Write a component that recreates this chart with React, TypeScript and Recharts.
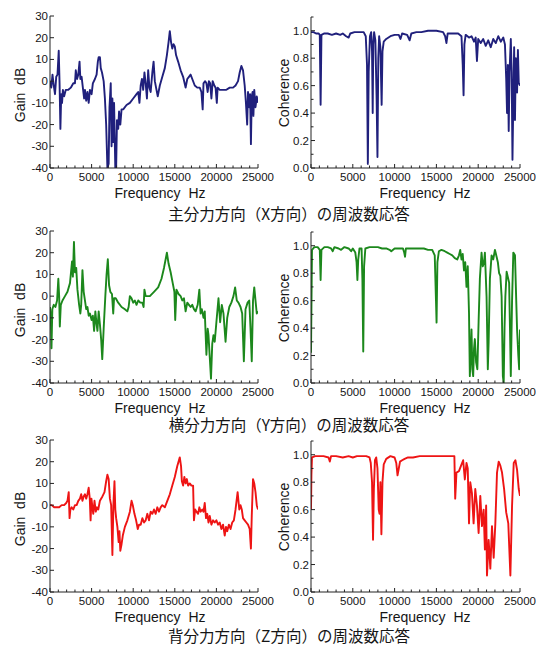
import React from 'react';
import { LineChart, Line, XAxis, YAxis } from 'recharts';

const FONT = '"Liberation Sans", Arial, Helvetica, sans-serif';
const CJK = '"Noto Sans CJK JP", "Noto Sans CJK SC", sans-serif';
const TEXT = '#151515';
const FRAME = '#222';

const freqTicks = [
  0, 1000, 2000, 3000, 4000, 5000, 6000, 7000, 8000, 9000, 10000, 11000, 12000,
  13000, 14000, 15000, 16000, 17000, 18000, 19000, 20000, 21000, 22000, 23000, 24000, 25000,
];
const gainTicks = [-40, -30, -20, -10, 0, 10, 20, 30];
const cohTicks = [0, 0.1, 0.2, 0.3, 0.4, 0.5, 0.6, 0.7, 0.8, 0.9, 1.0, 1.1];

const captions = [
  '主分力方向（X方向）の周波数応答',
  '横分力方向（Y方向）の周波数応答',
  '背分力方向（Z方向）の周波数応答',
];
const colors = ['#20207c', '#1c881c', '#ee1414'];

// [frequency Hz, gain dB]
const gainX: [number, number][] = [
  [0, 0], [150, -3], [300, 3], [450, -2], [600, -6], [750, 2], [900, 3], [1050, 14], [1150, -1], [1250, -22],
  [1350, -6], [1450, -10], [1550, -4], [1700, -7], [1900, -4], [2200, -4], [2500, -3], [2800, -1], [3000, -1],
  [3100, 5], [3250, 1], [3400, 3], [3550, 9], [3650, 1], [3800, 2], [3950, -3], [4100, -8], [4200, -4],
  [4350, -9], [4500, -5], [4650, -10], [4800, -4], [5000, -6], [5150, -1], [5400, 1], [5600, 3], [5750, 9],
  [5850, 11], [6000, 11], [6100, 6], [6250, 4], [6450, 0], [6600, -8], [6750, -20], [6900, -40], [7050, -38],
  [7150, -12], [7300, -1], [7400, -30], [7500, -8], [7600, -28], [7700, -10], [7850, -40], [7950, -40],
  [8050, -18], [8200, -22], [8300, -14], [8450, -20], [8600, -13], [8800, -13], [9200, -11], [9600, -10],
  [10000, -8], [10400, -6], [10600, -5], [10750, -10], [10900, -2], [11050, 1], [11200, -4], [11350, 4],
  [11500, -1], [11650, -8], [11800, 5], [11950, -3], [12100, -5], [12300, 4], [12450, 9], [12600, 0],
  [12800, -4], [12950, -7], [13200, -2], [13500, 2], [13800, 6], [14050, 12], [14250, 18], [14400, 23],
  [14550, 18], [14700, 15], [14850, 17], [15000, 16], [15150, 12], [15400, 9], [15700, 5], [16000, 2],
  [16300, -3], [16500, 1], [16700, 2], [16900, 3], [17100, 1], [17400, -2], [17700, -3], [18000, -3],
  [18200, -5], [18350, -13], [18450, -1], [18650, 0], [18800, -1], [18950, -5], [19100, 0], [19250, -1],
  [19400, -8], [19550, 0], [19750, -2], [19900, -3], [20050, -10], [20150, -3], [20400, -4], [20800, -4],
  [21200, -4], [21600, -3], [22000, -3], [22300, -2], [22600, 0], [22800, 4], [23000, 7], [23200, 5],
  [23400, -2], [23550, -10], [23700, -20], [23800, -5], [23950, -12], [24050, -6], [24150, -29], [24250, -7],
  [24350, -5], [24450, -16], [24550, -4], [24700, -12], [24850, -7], [25000, -10],
];

const cohX: [number, number][] = [
  [0, 0.99], [300, 0.99], [600, 0.98], [900, 0.98], [1050, 0.97], [1150, 0.46], [1250, 0.97], [1600, 0.98],
  [2000, 0.98], [2500, 0.97], [3000, 0.98], [3500, 0.97], [3800, 0.98], [4200, 0.96], [4500, 0.95], [4700, 0.98],
  [5200, 0.99], [5800, 0.99], [6300, 0.99], [6550, 0.96], [6700, 0.75], [6800, 0.03], [6900, 0.7], [7050, 0.96],
  [7200, 0.99], [7300, 0.85], [7380, 0.4], [7450, 0.9], [7550, 0.99], [7700, 0.93], [7850, 0.5], [7950, 0.08],
  [8050, 0.8], [8150, 0.96], [8300, 0.88], [8450, 0.46], [8550, 0.85], [8700, 0.92], [9000, 0.94], [9500, 0.96],
  [10000, 0.97], [10500, 0.97], [10700, 0.94], [10900, 0.98], [11500, 0.97], [11800, 0.93], [12000, 0.98],
  [12600, 0.99], [13200, 0.99], [14000, 1.0], [15000, 1.0], [15800, 0.99], [16050, 0.96], [16200, 0.91],
  [16350, 0.98], [17000, 0.98], [17600, 0.98], [18000, 0.96], [18150, 0.75], [18250, 0.53], [18350, 0.9],
  [18500, 0.97], [18900, 0.95], [19200, 0.96], [19500, 0.92], [19700, 0.95], [19850, 0.78], [20000, 0.94],
  [20300, 0.91], [20600, 0.94], [20900, 0.89], [21200, 0.93], [21500, 0.88], [21800, 0.94], [22100, 0.91],
  [22400, 0.96], [22700, 0.92], [23000, 0.95], [23200, 0.9], [23350, 0.65], [23450, 0.4], [23550, 0.75],
  [23650, 0.27], [23750, 0.7], [23900, 0.94], [24000, 0.7], [24100, 0.06], [24200, 0.5], [24300, 0.88],
  [24400, 0.35], [24500, 0.8], [24650, 0.55], [24750, 0.86], [24850, 0.62], [25000, 0.6],
];

const gainY: [number, number][] = [
  [0, -5], [100, -10], [180, -24], [280, -6], [450, -4], [650, -5], [850, -2], [1000, 8], [1100, 0], [1180, -14],
  [1300, -4], [1500, -2], [1800, 0], [2100, 2], [2400, 6], [2550, 12], [2650, 16], [2750, 9], [2880, 25],
  [3000, 11], [3150, 13], [3300, 3], [3500, -4], [3650, -8], [3750, -4], [3900, 12], [4050, 2], [4200, -2],
  [4350, -6], [4500, -5], [4650, -9], [4800, -8], [5000, -11], [5150, -9], [5300, -16], [5450, -7], [5600, -13],
  [5700, -16], [5850, -7], [6000, -13], [6150, -20], [6280, -29], [6450, -15], [6650, 0], [6800, 10], [6950, 17],
  [7100, 5], [7250, 2], [7450, 1], [7600, -8], [7700, -1], [7900, -1], [8200, -3], [8600, -5], [9000, -6],
  [9300, -7], [9450, -5], [9600, 0], [9800, -1], [10000, -3], [10200, -2], [10400, -4], [10600, -2], [10850, -3],
  [11100, -3], [11250, -5], [11350, 3], [11500, 0], [12000, 0], [12500, 2], [13000, 4], [13400, 8], [13700, 13],
  [13900, 17], [14050, 20], [14250, 15], [14500, 11], [14750, 6], [14950, 2], [15050, -11], [15200, 3],
  [15450, 1], [15700, 0], [15900, -2], [16100, -1], [16300, -7], [16500, -3], [16700, -4], [16900, -5],
  [17100, -4], [17300, -6], [17500, -7], [17750, -4], [17950, 3], [18100, -8], [18250, -6], [18450, -10],
  [18600, -7], [18800, -27], [18950, -15], [19050, -18], [19200, -28], [19350, -38], [19500, -22], [19650, -18],
  [19800, -21], [20000, -12], [20250, -1], [20450, -12], [20650, -4], [20850, -8], [21100, -21], [21300, -10],
  [21550, -5], [21800, -3], [22050, 0], [22250, 4], [22450, -2], [22650, -3], [22900, -5], [23100, -8],
  [23300, -30], [23500, -6], [23750, -3], [23950, -2], [24100, -15], [24250, -30], [24400, -2], [24550, 4],
  [24700, -2], [24850, -8], [25000, -7],
];

const cohY: [number, number][] = [
  [0, 0.22], [60, 0.6], [120, 0.97], [400, 0.99], [800, 0.99], [1050, 0.97], [1150, 0.75], [1250, 0.97],
  [1600, 0.99], [2000, 0.99], [2400, 0.98], [2600, 0.96], [2800, 0.99], [3300, 0.98], [3600, 0.97], [4000, 0.99],
  [4500, 0.98], [4800, 0.96], [5000, 0.98], [5300, 0.95], [5450, 0.88], [5550, 0.75], [5650, 0.9], [5800, 0.98],
  [6050, 0.98], [6150, 0.75], [6250, 0.23], [6350, 0.85], [6500, 0.98], [7000, 0.99], [7500, 0.99], [8000, 0.99],
  [8500, 0.98], [9000, 0.98], [9400, 0.97], [9600, 0.96], [10000, 0.98], [10500, 0.98], [11000, 0.98],
  [11150, 0.95], [11250, 0.92], [11350, 0.98], [12000, 0.98], [12500, 0.98], [13000, 0.98], [13500, 0.98],
  [14000, 0.97], [14500, 0.97], [14800, 0.93], [14950, 0.6], [15020, 0.44], [15120, 0.88], [15300, 0.96],
  [15600, 0.97], [16000, 0.96], [16300, 0.95], [16600, 0.94], [16900, 0.93], [17200, 0.91], [17500, 0.9],
  [17700, 0.93], [17850, 0.97], [18000, 0.9], [18150, 0.94], [18300, 0.82], [18450, 0.88], [18600, 0.7],
  [18750, 0.85], [18900, 0.51], [19000, 0.05], [19100, 0.2], [19200, 0.39], [19300, 0.1], [19400, 0.05],
  [19500, 0.25], [19600, 0.32], [19750, 0.15], [19900, 0.1], [20050, 0.45], [20200, 0.76], [20400, 0.95],
  [20550, 0.85], [20700, 0.88], [20800, 0.95], [21000, 0.63], [21150, 0.1], [21250, 0.3], [21400, 0.76],
  [21600, 0.93], [21800, 0.9], [22000, 0.97], [22200, 0.92], [22350, 0.88], [22500, 0.8], [22650, 0.78],
  [22800, 0.63], [22950, 0.05], [23050, 0.0], [23150, 0.4], [23250, 0.63], [23400, 0.81], [23550, 0.77],
  [23700, 0.73], [23800, 0.4], [23900, 0.05], [24050, 0.6], [24200, 0.95], [24400, 0.93], [24550, 0.6],
  [24650, 0.39], [24800, 0.2], [24900, 0.1], [25000, 0.39],
];

const gainZ: [number, number][] = [
  [0, 0], [200, 0], [500, -1], [800, -1], [1100, -1], [1400, 0], [1700, 0], [1950, 1], [2100, 2], [2250, 6],
  [2350, -6], [2450, -2], [2600, -1], [2800, -2], [3000, 0], [3200, 0], [3400, 2], [3600, 3], [3750, 5],
  [3900, 2], [4050, 4], [4200, 5], [4350, 3], [4500, 5], [4650, 8], [4780, 3], [4880, -7], [4980, 3],
  [5100, -1], [5200, -4], [5350, 2], [5500, -3], [5650, -1], [5800, -2], [6000, 2], [6300, 4], [6550, 6],
  [6750, 11], [6900, 14], [7050, 12], [7200, 3], [7350, 0], [7500, -23], [7620, 0], [7750, 11], [7850, -2],
  [7950, -6], [8100, -10], [8250, -17], [8350, -12], [8450, -21], [8600, -18], [8750, -14], [9000, -10],
  [9300, -7], [9600, -3], [9800, 2], [9950, 0], [10150, -4], [10350, -7], [10550, -11], [10700, -9],
  [10900, -9], [11100, -6], [11300, -8], [11500, -7], [11700, -4], [11900, -7], [12100, -3], [12300, -4],
  [12500, -2], [12700, -4], [12900, -1], [13100, -3], [13300, -1], [13500, 0], [13800, -1], [14100, 2],
  [14400, 5], [14700, 9], [15000, 13], [15300, 18], [15600, 22], [15750, 18], [15850, 11], [16000, 9],
  [16150, 13], [16300, 10], [16450, 12], [16600, 9], [16800, 10], [17000, 9], [17200, 9], [17300, -7],
  [17450, -2], [17600, -3], [17800, -4], [17950, -1], [18100, -3], [18300, -2], [18450, -3], [18600, 1],
  [18750, -6], [18900, -4], [19050, -8], [19200, -5], [19400, -9], [19600, -7], [19800, -8], [20000, -7],
  [20200, -9], [20400, -8], [20600, -11], [20800, -9], [21000, -14], [21150, -10], [21300, -12], [21500, -9],
  [21700, -11], [21900, -8], [22100, -7], [22300, -2], [22550, 6], [22750, -2], [22900, 0], [23050, -2],
  [23200, -6], [23400, -7], [23600, -8], [23800, -9], [24000, -11], [24150, -20], [24250, -5], [24400, 12],
  [24550, 10], [24700, 6], [24850, 0], [25000, -2],
];

const cohZ: [number, number][] = [
  [0, 0.6], [50, 0.85], [120, 0.98], [500, 0.99], [1000, 0.99], [1500, 0.99], [2100, 0.98], [2250, 0.95],
  [2400, 0.99], [3000, 0.99], [3800, 0.98], [4500, 0.99], [5000, 0.98], [5500, 0.99], [6000, 0.99], [6600, 0.99],
  [7000, 0.98], [7150, 0.94], [7300, 0.8], [7420, 0.38], [7520, 0.75], [7650, 0.96], [7800, 0.98], [7950, 0.9],
  [8100, 0.6], [8200, 0.57], [8300, 0.8], [8420, 0.42], [8550, 0.8], [8700, 0.93], [9000, 0.97], [9500, 0.99],
  [10000, 0.98], [10200, 0.94], [10350, 0.85], [10500, 0.9], [10650, 0.95], [10900, 0.96], [11200, 0.97],
  [11600, 0.98], [12200, 0.98], [13000, 0.99], [14000, 0.99], [15000, 0.99], [16000, 0.99], [17000, 0.99],
  [17150, 0.99], [17250, 0.68], [17400, 0.87], [17700, 0.88], [17950, 0.92], [18200, 0.96], [18400, 0.82],
  [18600, 0.94], [18750, 0.9], [18900, 0.5], [19050, 0.8], [19250, 0.72], [19450, 0.5], [19650, 0.75],
  [19850, 0.63], [20050, 0.43], [20250, 0.7], [20450, 0.48], [20650, 0.6], [20800, 0.31], [20950, 0.63],
  [21050, 0.12], [21250, 0.38], [21450, 0.17], [21650, 0.48], [21850, 0.25], [22050, 0.5], [22250, 0.87],
  [22450, 0.95], [22650, 0.92], [22850, 0.87], [23100, 0.75], [23350, 0.58], [23600, 0.5], [23850, 0.12],
  [24050, 0.63], [24250, 0.94], [24450, 0.96], [24650, 0.89], [24850, 0.75], [25000, 0.7],
];

const rowTops = [0, 215, 424];
const captionY = [214, 425, 636];
const gains = [gainX, gainY, gainZ];
const cohs = [cohX, cohY, cohZ];

const isMajorX = (v: number) => v % 5000 === 0;
const isEvenTenth = (v: number) => Math.round(v * 10) % 2 === 0;

function BottomTick(props: any) {
  const { x, y, payload } = props;
  const major = isMajorX(payload.value);
  return (
    <g>
      <line x1={x} x2={x} y1={y} y2={y - (major ? 4 : 2.5)} stroke={FRAME} />
      {major && (
        <text x={x} y={y + 13} textAnchor="middle" fontSize={11.5} fill={TEXT}>
          {payload.value}
        </text>
      )}
    </g>
  );
}

function TopTick(props: any) {
  const { x, y, payload } = props;
  const major = isMajorX(payload.value);
  return <line x1={x} x2={x} y1={y} y2={y + (major ? 4 : 2.5)} stroke={FRAME} />;
}

function makeSideTick(coh: boolean, side: 'left' | 'right') {
  return (props: any) => {
    const { x, y, payload } = props;
    const v = payload.value;
    const major = !coh || isEvenTenth(v);
    const len = major ? 4 : 2.5;
    const dir = side === 'left' ? 1 : -1;
    const showLabel = side === 'left' && major && (!coh || v <= 1.0001);
    return (
      <g>
        <line x1={x} x2={x + dir * len} y1={y} y2={y} stroke={FRAME} />
        {showLabel && (
          <text x={x - 2} y={y + 4} textAnchor="end" fontSize={11.5} fill={TEXT}>
            {coh ? v.toFixed(1) : v}
          </text>
        )}
      </g>
    );
  };
}

function Panel(props: { pts: [number, number][]; color: string; coh: boolean }) {
  const { pts, color, coh } = props;
  const data = pts.map(([f, v]) => ({ f, v }));
  // the gain chart is wider so its "25000" label is not cut off
  const width = coh ? 271 : 290;
  const yTicks = coh ? cohTicks : gainTicks;
  const domain: [number, number] = coh ? [0, 1.1] : [-40, 30];
  return (
    <LineChart
      width={width}
      height={200}
      data={data}
      margin={{ top: coh ? 17 : 16, right: coh ? 16 : 32, bottom: 0, left: 0 }}
    >
      <XAxis
        dataKey="f"
        type="number"
        domain={[0, 25000]}
        ticks={freqTicks}
        interval={0}
        height={32}
        tickSize={0}
        tickMargin={0}
        tickLine={false}
        axisLine={{ stroke: FRAME }}
        tick={BottomTick}
        allowDataOverflow
      />
      <XAxis
        xAxisId="top"
        orientation="top"
        dataKey="f"
        type="number"
        domain={[0, 25000]}
        ticks={freqTicks}
        interval={0}
        height={0}
        tickSize={0}
        tickMargin={0}
        tickLine={false}
        axisLine={{ stroke: FRAME }}
        tick={TopTick}
        allowDataOverflow
      />
      <YAxis
        type="number"
        domain={domain}
        ticks={yTicks}
        interval={0}
        width={coh ? 46 : 50}
        tickSize={0}
        tickMargin={0}
        tickLine={false}
        axisLine={{ stroke: FRAME }}
        tick={makeSideTick(coh, 'left')}
        allowDataOverflow
      />
      <YAxis
        yAxisId="right"
        orientation="right"
        type="number"
        domain={domain}
        ticks={yTicks}
        interval={0}
        width={0}
        tickSize={0}
        tickMargin={0}
        tickLine={false}
        axisLine={{ stroke: FRAME }}
        tick={makeSideTick(coh, 'right')}
        allowDataOverflow
      />
      <Line
        dataKey="v"
        type="linear"
        stroke={color}
        strokeWidth={1.9}
        strokeLinejoin="round"
        dot={false}
        isAnimationActive={false}
      />
    </LineChart>
  );
}

const abs = (left: number, top: number): React.CSSProperties => ({
  position: 'absolute',
  left,
  top,
  transform: 'translate(-50%, -50%)',
  whiteSpace: 'pre',
  lineHeight: 1,
  color: TEXT,
});

export default function App() {
  return (
    <div
      style={{
        position: 'absolute',
        left: 0,
        top: 0,
        width: 536,
        height: 650,
        background: '#fff',
        fontFamily: FONT,
        overflow: 'hidden',
      }}
    >
      {rowTops.map((top, i) => (
        <React.Fragment key={i}>
          <div style={{ position: 'absolute', left: 0, top }}>
            <Panel pts={gains[i]} color={colors[i]} coh={false} />
          </div>
          <div style={{ position: 'absolute', left: 265, top }}>
            <Panel pts={cohs[i]} color={colors[i]} coh={true} />
          </div>
          <div style={{ ...abs(20, top + 95), transform: 'translate(-50%, -50%) rotate(-90deg)', fontSize: 14 }}>
            {'Gain  dB'}
          </div>
          <div style={{ ...abs(284, top + 93), transform: 'translate(-50%, -50%) rotate(-90deg)', fontSize: 14 }}>
            Coherence
          </div>
          <div style={{ ...abs(160, top + 193), fontSize: 14 }}>{'Frequency  Hz'}</div>
          <div style={{ ...abs(425, top + 193), fontSize: 14 }}>{'Frequency  Hz'}</div>
          <div style={{ ...abs(289, captionY[i]), fontSize: 15.5, fontFamily: CJK }}>{captions[i]}</div>
        </React.Fragment>
      ))}
    </div>
  );
}
